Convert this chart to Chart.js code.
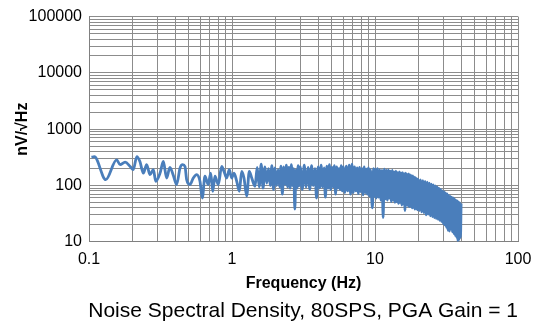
<!DOCTYPE html>
<html>
<head>
<meta charset="utf-8">
<script src="https://cdn.jsdelivr.net/npm/chart.js@4"></script>
<style>
  html, body { margin: 0; padding: 0; background: #fff; }
  #wrap { width: 541px; height: 326px; }
</style>
</head>
<body>
<div id="wrap"><canvas id="nsd"></canvas></div>
<script>
// frequency bins (Hz)
var freq = [
  0.104,0.109,0.131,0.156,0.165,0.179,0.194,0.204,0.216,0.227,0.240,0.253,0.267,0.282,0.293,
  0.314,0.331,0.349,0.368,0.389,0.410,0.433,0.452,0.469,0.482,0.508,0.536,0.566,0.597,0.620,
  0.647,0.682,0.710,0.733,0.760,0.802,0.847,0.879,0.918,0.957,0.995,1.033,1.079,1.125,1.169,
  1.213,1.267,1.321,1.374,1.449,
  1.50,1.55,1.60,1.65,1.70,1.75,1.80,1.85,1.90,1.95,2.00,2.05,2.10,2.15,2.20,2.25,2.30,2.35,
  2.40,2.45,2.50,2.55,2.60,2.65,2.70,2.75,2.80,2.85,2.90,2.95,3.00,
  3.1,3.2,3.3,3.4,3.5,3.6,3.7,3.8,3.9,4.0,4.1,4.2,4.3,4.4,4.5,4.6,4.7,4.8,4.9,5.0,
  5.1,5.2,5.3,5.4,5.5,5.6,5.7,5.8,5.9,6.0,
  6.15,6.3,6.45,6.6,6.75,6.9,7.05,7.2,7.35,7.5,7.65,7.8,7.95,8.1,8.25,8.4,8.55,8.7,8.85,9.0,
  9.15,9.3,9.45,9.6,9.75,9.9,
  10.0,10.2,10.4,10.6,10.8,11.0,11.2,11.4,11.6,11.8,12.0,12.2,12.4,12.6,12.8,13.0,13.2,13.4,
  13.6,13.8,14.0,14.2,14.4,14.6,14.8,15.0,15.2,15.4,15.6,15.8,16.0,16.2,16.4,16.6,16.8,17.0,
  17.2,17.4,17.6,17.8,18.0,18.2,18.4,18.6,18.8,19.0,19.2,19.4,19.6,19.8,
  20.0,20.4,20.8,21.2,21.6,22.0,22.4,22.8,23.2,23.6,24.0,24.4,24.8,25.2,25.6,26.0,26.4,26.8,
  27.2,27.6,28.0,28.4,28.8,29.2,29.6,30.0,30.4,30.8,31.2,31.6,32.0,32.4,32.8,33.2,33.6,34.0,
  34.4,34.8,35.2,35.6,36.0,36.4,36.8,37.2,37.6,38.0,38.4,38.8,39.2,39.6,40.0
];

// noise spectral density, nV/sqrt(Hz)
var nsd = [
  318,325,127,286,234,260,218,191,327,267,166,234,156,191,119,
  166,267,136,210,150,104,204,234,218,127,104,136,156,119,60,
  146,104,166,79,146,104,218,178,136,191,136,166,119,79,178,
  136,65,178,136,97,
  210,95,240,90,215,110,200,100,225,85,205,100,190,95,220,70,215,105,
  230,95,210,90,235,100,200,38,190,90,225,100,215,
  85,230,95,210,85,225,100,200,60,215,90,230,95,205,62,220,90,235,85,210,
  95,225,70,215,90,200,85,225,80,215,
  75,220,80,230,70,240,75,215,80,205,72,210,78,200,68,215,75,195,70,205,
  65,190,70,40,200,65,
  195,60,200,62,190,55,185,27,195,58,185,55,190,60,180,52,185,55,
  175,50,180,52,170,48,175,50,168,45,170,47,162,36,165,45,158,44,
  160,42,155,43,150,40,148,41,140,38,138,39,132,37,
  130,36,126,34,122,33,118,30,115,31,110,29,106,28,102,27,98,26,
  94,25,90,24,85,23,80,21,78,20,74,18,71,16,67,15.5,64,17,
  62,15,60,14,58,13,55,12,53,10.4,51,11,49,12,48
];

// gridline positions and labelled ticks
var xGrid = [0.1,0.2,0.3,0.4,0.5,0.6,0.7,0.8,0.9,1,2,3,4,5,6,7,8,9,10,20,30,40,50,60,70,80,90,100];
var yGrid = [10,20,30,40,50,60,70,80,90,100,200,300,400,500,600,700,800,900,
  1000,2000,3000,4000,5000,6000,7000,8000,9000,10000,20000,30000,40000,50000,60000,70000,80000,90000,100000];
var xLabels = [0.1, 1, 10, 100];
var yLabels = [10, 100, 1000, 10000, 100000];

var FONT = "'Liberation Sans', Arial, sans-serif";
Chart.defaults.font.family = FONT;
Chart.defaults.color = '#000';

var points = freq.map(function (f, i) { return { x: f, y: nsd[i] }; });

new Chart(document.getElementById('nsd'), {
  type: 'line',
  data: {
    datasets: [{
      data: points,
      borderColor: '#4a7ebb',
      borderWidth: 2.8,
      pointRadius: 0,
      cubicInterpolationMode: 'monotone',
      fill: false
    }]
  },
  options: {
    responsive: true,
    maintainAspectRatio: false,
    animation: false,
    layout: { padding: { top: 14, right: 23, left: 0, bottom: 0 } },
    plugins: {
      legend: { display: false },
      tooltip: { enabled: false },
      title: {
        display: true,
        position: 'bottom',
        align: 'end',
        text: 'Noise Spectral Density, 80SPS, PGA Gain = 1',
        color: '#000',
        font: { size: 21, weight: 'normal' },
        padding: { top: 2, bottom: 2 }
      }
    },
    scales: {
      x: {
        type: 'logarithmic',
        min: 0.1,
        max: 100,
        afterBuildTicks: function (s) { s.ticks = xGrid.map(function (v) { return { value: v }; }); },
        afterFit: function (s) { s.height = 55; },
        grid: { color: '#8c8c8c', lineWidth: 1, drawTicks: false },
        border: { color: '#808080' },
        ticks: {
          autoSkip: false,
          maxRotation: 0,
          padding: 8,
          font: { size: 16 },
          callback: function (v) { return xLabels.indexOf(v) >= 0 ? String(v) : ''; }
        },
        title: {
          display: true,
          text: 'Frequency (Hz)',
          font: { size: 16, weight: 'bold' },
          padding: { top: 0, bottom: 4 }
        }
      },
      y: {
        type: 'logarithmic',
        min: 10,
        max: 100000,
        afterBuildTicks: function (s) { s.ticks = yGrid.map(function (v) { return { value: v }; }); },
        afterFit: function (s) { s.width = 89; },
        grid: { color: '#8c8c8c', lineWidth: 1, drawTicks: false },
        border: { color: '#808080' },
        ticks: {
          autoSkip: false,
          padding: 7,
          font: { size: 16 },
          callback: function (v) { return yLabels.indexOf(v) >= 0 ? String(v) : ''; }
        },
        title: {
          display: true,
          text: 'nV/√Hz',
          font: { size: 16, weight: 'bold' },
          padding: { top: 13, bottom: 0 }
        }
      }
    }
  }
});
</script>
</body>
</html>
